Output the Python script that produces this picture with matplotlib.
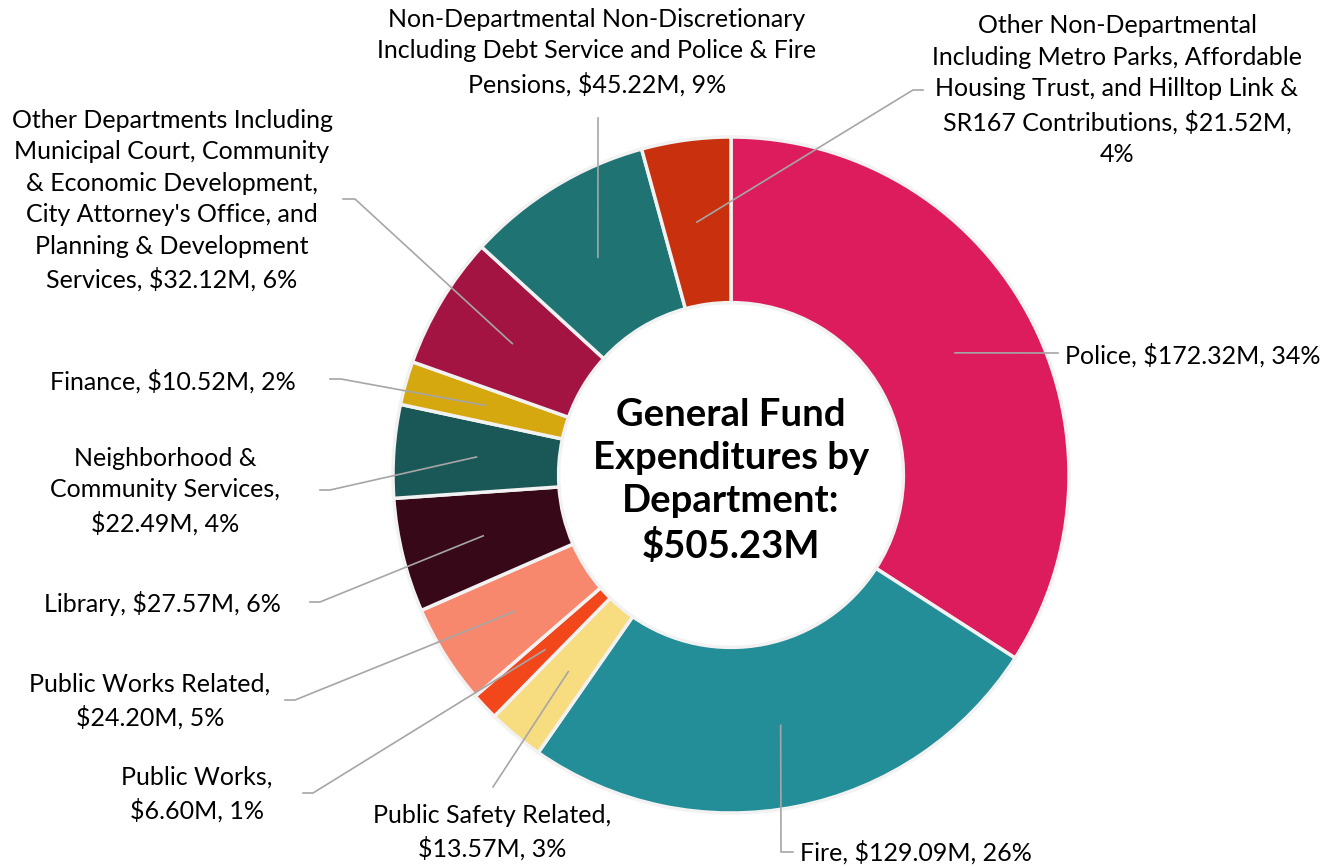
import numpy as np
import matplotlib
matplotlib.use("Agg")
import matplotlib.pyplot as plt

# data, clockwise from 12 o'clock
labels = ["Police", "Fire", "Public Safety Related", "Public Works",
          "Public Works Related", "Library", "Neighborhood & Community Services",
          "Finance", "Other Departments", "Non-Departmental Non-Discretionary",
          "Other Non-Departmental"]
values = [172.32, 129.09, 13.57, 6.60, 24.20, 27.57, 22.49, 10.52, 32.12, 45.22, 21.52]
percents = [34, 26, 3, 1, 5, 6, 4, 2, 6, 9, 4]
label_text = [
    "Police, \\$172.32M, 34%",
    "Fire, \\$129.09M, 26%",
    "Public Safety Related,\n\\$13.57M, 3%",
    "Public Works,\n\\$6.60M, 1%",
    "Public Works Related,\n\\$24.20M, 5%",
    "Library, \\$27.57M, 6%",
    "Neighborhood &\nCommunity Services,\n\\$22.49M, 4%",
    "Finance, \\$10.52M, 2%",
    "Other Departments Including\nMunicipal Court, Community\n& Economic Development,\nCity Attorney's Office, and\nPlanning & Development\nServices, \\$32.12M, 6%",
    "Non-Departmental Non-Discretionary\nIncluding Debt Service and Police & Fire\nPensions, \\$45.22M, 9%",
    "Other Non-Departmental\nIncluding Metro Parks, Affordable\nHousing Trust, and Hilltop Link &\nSR167 Contributions, \\$21.52M,\n4%",
]
colors = ["#DC1C5C", "#238D98", "#F7DC80", "#F2461B", "#F7886E", "#360818",
          "#1A5757", "#D6A80F", "#A41443", "#207373", "#C8300E"]

W, H = 1332, 867
fig = plt.figure(figsize=(W / 100, H / 100), dpi=100)
ax = fig.add_axes([0, 0, 1, 1])

cx, cy = 731, H - 475
R = 338
ring = 0.49

wedges, _ = ax.pie(values, colors=colors, startangle=90, counterclock=False,
                   center=(cx, cy), radius=R, frame=True,
                   wedgeprops=dict(width=R * ring, edgecolor="#F2F2F2", linewidth=2.5))
ax.set_xlim(0, W)
ax.set_ylim(0, H)
ax.set_aspect("equal")
ax.axis("off")

plt.rcParams['font.family'] = ['Lato', 'DejaVu Sans']
fs = 18

# label placement (pixel coords from top): text x, text y, ha, elbow, tick end
lab = [
    (1065, 355, "left", (1058, 353), None),
    (800, 852, "left", (781, 852), (793, 852)),
    (492, 832, "center", (493, 787), None),
    (197, 794, "center", (313, 793), (303, 793)),
    (150, 701, "center", (295, 700), (285, 700)),
    (162, 604, "center", (320, 602), (310, 602)),
    (165, 491, "center", (330, 490), (320, 490)),
    (173, 381, "center", (341, 379), (330, 379)),
    (172, 200, "center", (355, 199), (343, 199)),
    (597, 52, "center", (598, 118), None),
    (1117, 90, "center", (913, 90), (923, 90)),
]

total = sum(values)
cum = 0
rmid = R * (1 - ring / 2)
for i, v in enumerate(values):
    mid = (cum + v / 2) / total * 2 * np.pi
    cum += v
    sx = cx + rmid * np.sin(mid)
    sy = cy + rmid * np.cos(mid)
    tx, ty, ha, elbow, tick = lab[i]
    xs = [sx, elbow[0]]
    ys = [sy, H - elbow[1]]
    if tick is not None:
        xs.append(tick[0])
        ys.append(H - tick[1])
    ax.plot(xs, ys, color="#A6A6A6", lw=1.2, zorder=3)
    ax.text(tx, H - ty, label_text[i], ha=ha, va="center", fontsize=fs,
            color="#000000", multialignment="center", linespacing=1.45)

ax.text(cx, H - 481, "General Fund\nExpenditures by\nDepartment:\n\\$505.23M",
        ha="center", va="center", fontsize=27.5, fontweight="bold",
        color="#000000", linespacing=1.33)

fig.savefig("out.png", dpi=100)
